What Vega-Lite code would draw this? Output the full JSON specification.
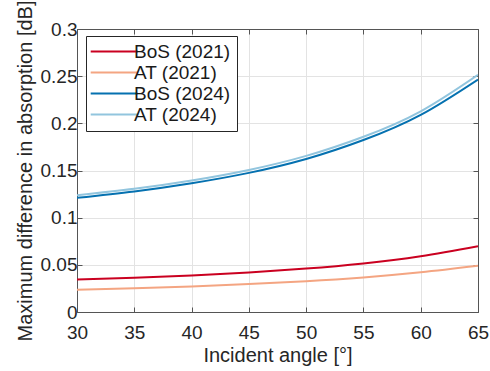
{
  "$schema": "https://vega.github.io/schema/vega-lite/v6.json",
  "autosize": "none",
  "width": 401,
  "height": 283,
  "padding": {"left": 77, "top": 29, "right": 12, "bottom": 59},
  "background": "white",
  "config": {
    "font": "Liberation Sans",
    "view": {"stroke": "#555555", "strokeWidth": 1},
    "axis": {
      "labelFont": "Liberation Sans",
      "titleFont": "Liberation Sans",
      "labelFontSize": 19,
      "titleFontSize": 20,
      "titleFontWeight": "normal",
      "labelColor": "#262626",
      "titleColor": "#262626",
      "domainColor": "#555555",
      "tickColor": "#555555",
      "gridColor": "#e3e3e3",
      "tickSize": -5,
      "labelFlush": false
    }
  },
  "datasets": {
    "d": [
      {"angle": 30, "value": 0.0345, "series": "BoS (2021)"},
      {"angle": 35, "value": 0.0362, "series": "BoS (2021)"},
      {"angle": 40, "value": 0.0386, "series": "BoS (2021)"},
      {"angle": 45, "value": 0.0418, "series": "BoS (2021)"},
      {"angle": 50, "value": 0.0460, "series": "BoS (2021)"},
      {"angle": 55, "value": 0.0515, "series": "BoS (2021)"},
      {"angle": 60, "value": 0.0592, "series": "BoS (2021)"},
      {"angle": 65, "value": 0.0698, "series": "BoS (2021)"},
      {"angle": 30, "value": 0.0237, "series": "AT (2021)"},
      {"angle": 35, "value": 0.0252, "series": "AT (2021)"},
      {"angle": 40, "value": 0.0271, "series": "AT (2021)"},
      {"angle": 45, "value": 0.0296, "series": "AT (2021)"},
      {"angle": 50, "value": 0.0327, "series": "AT (2021)"},
      {"angle": 55, "value": 0.0367, "series": "AT (2021)"},
      {"angle": 60, "value": 0.0421, "series": "AT (2021)"},
      {"angle": 65, "value": 0.0490, "series": "AT (2021)"},
      {"angle": 30, "value": 0.1210, "series": "BoS (2024)"},
      {"angle": 35, "value": 0.1278, "series": "BoS (2024)"},
      {"angle": 40, "value": 0.1365, "series": "BoS (2024)"},
      {"angle": 45, "value": 0.1475, "series": "BoS (2024)"},
      {"angle": 50, "value": 0.1622, "series": "BoS (2024)"},
      {"angle": 55, "value": 0.1823, "series": "BoS (2024)"},
      {"angle": 60, "value": 0.2090, "series": "BoS (2024)"},
      {"angle": 65, "value": 0.2465, "series": "BoS (2024)"},
      {"angle": 30, "value": 0.1238, "series": "AT (2024)"},
      {"angle": 35, "value": 0.1306, "series": "AT (2024)"},
      {"angle": 40, "value": 0.1394, "series": "AT (2024)"},
      {"angle": 45, "value": 0.1506, "series": "AT (2024)"},
      {"angle": 50, "value": 0.1655, "series": "AT (2024)"},
      {"angle": 55, "value": 0.1858, "series": "AT (2024)"},
      {"angle": 60, "value": 0.2128, "series": "AT (2024)"},
      {"angle": 65, "value": 0.2515, "series": "AT (2024)"}
    ]
  },
  "data": {"name": "d"},
  "layer": [
    {
      "mark": {"type": "line", "strokeWidth": 2, "interpolate": "natural", "clip": true},
      "encoding": {
        "x": {
          "field": "angle", "type": "quantitative",
          "scale": {"domain": [30, 65], "nice": false, "zero": false},
          "axis": {"title": "Incident angle [°]", "values": [30, 35, 40, 45, 50, 55, 60, 65], "labelPadding": 16, "titlePadding": 3, "grid": true}
        },
        "y": {
          "field": "value", "type": "quantitative",
          "scale": {"domain": [0, 0.3], "nice": false},
          "axis": {"title": "Maximum difference in absorption [dB]", "values": [0, 0.05, 0.1, 0.15, 0.2, 0.25, 0.3], "labelPadding": 5, "titlePadding": 5, "grid": true, "labelExpr": "datum.value === 0 ? '0' : format(datum.value, '.2~f')"}
        },
        "color": {
          "field": "series", "type": "nominal",
          "scale": {
            "domain": ["BoS (2021)", "AT (2021)", "BoS (2024)", "AT (2024)"],
            "range": ["#ca0020", "#f4a582", "#0571b0", "#92c5de"]
          },
          "legend": {
            "title": null,
            "orient": "none",
            "legendX": 9,
            "legendY": 7,
            "symbolType": "M-1.35,0H4.5",
            "symbolSize": 256,
            "symbolStrokeWidth": 2,
            "labelFont": "Liberation Sans",
            "labelFontSize": 19,
            "labelColor": "#1a1a1a",
            "labelOffset": 23,
            "rowPadding": 1,
            "padding": 6,
            "strokeColor": "#262626",
            "fillColor": "white"
          }
        },
        "order": {"field": "series"}
      }
    },
    {
      "mark": {"type": "line", "opacity": 0},
      "encoding": {
        "x": {"field": "angle", "type": "quantitative", "scale": {"domain": [30, 65], "nice": false, "zero": false}, "axis": {"orient": "top", "labels": false, "title": null, "grid": false, "values": [30, 35, 40, 45, 50, 55, 60, 65]}},
        "y": {"field": "value", "type": "quantitative", "scale": {"domain": [0, 0.3], "nice": false}, "axis": {"orient": "right", "labels": false, "title": null, "grid": false, "values": [0, 0.05, 0.1, 0.15, 0.2, 0.25, 0.3]}},
        "detail": {"field": "series"}
      }
    }
  ],
  "resolve": {"axis": {"x": "independent", "y": "independent"}}
}
